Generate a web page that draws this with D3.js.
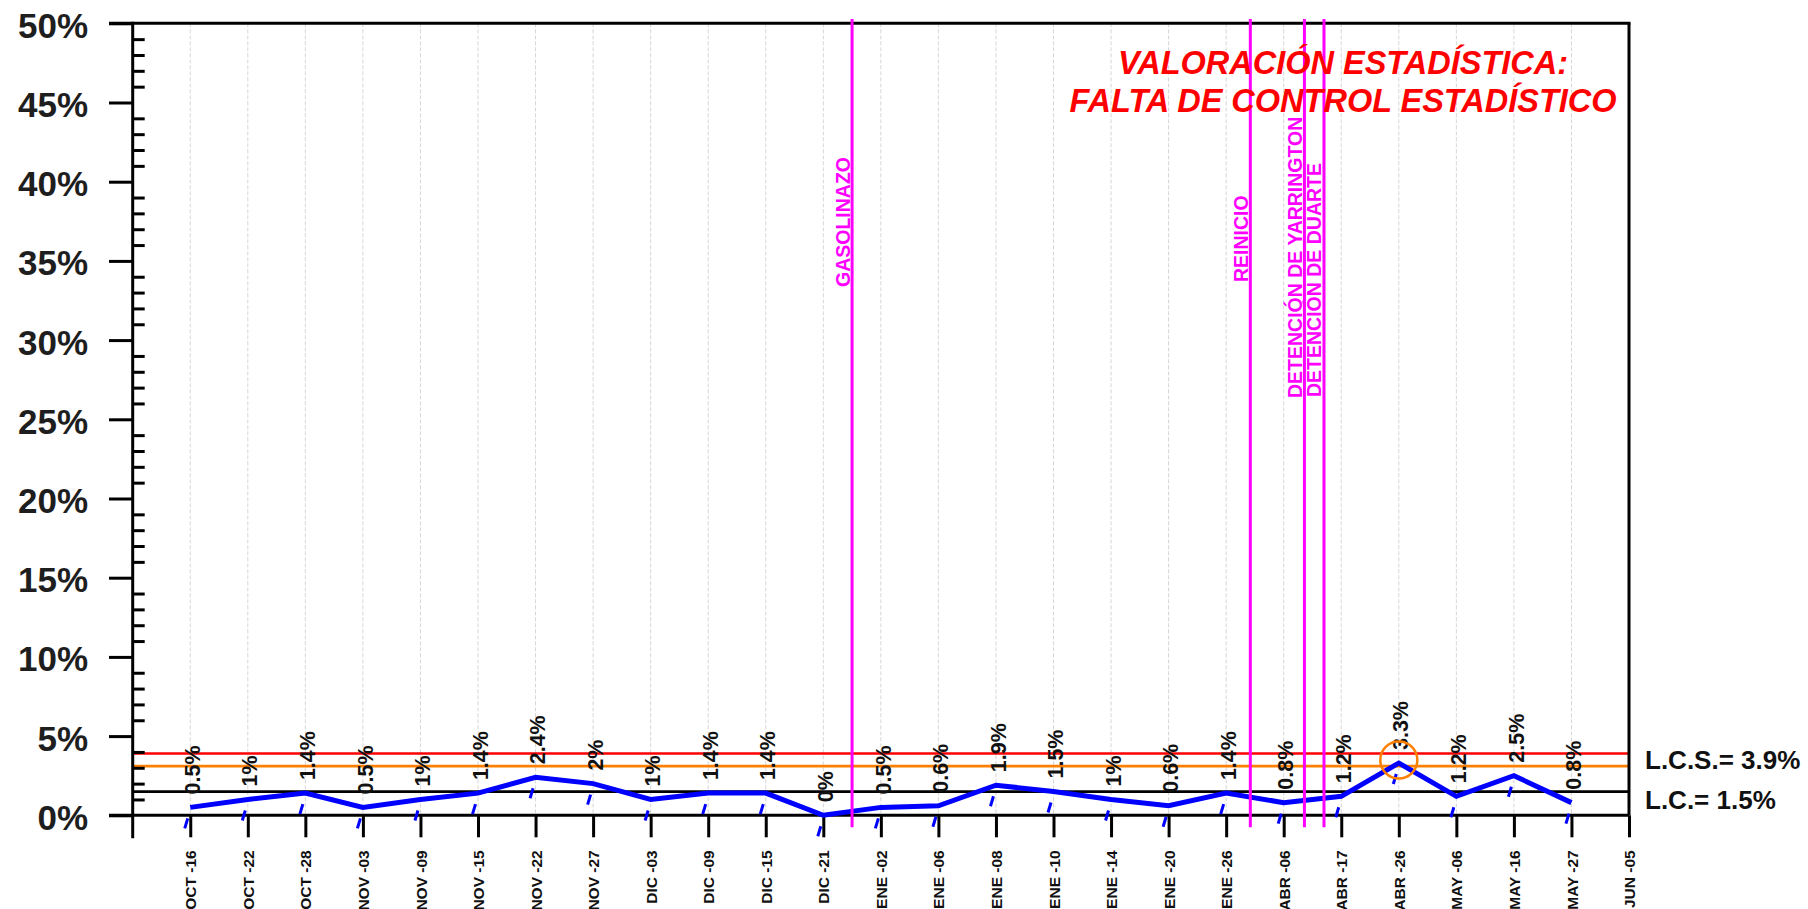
<!DOCTYPE html>
<html>
<head>
<meta charset="utf-8">
<script src="https://cdn.jsdelivr.net/npm/d3@7"></script>
<style>
  html, body { margin: 0; padding: 0; background: #fff; }
  svg { display: block; font-family: "Liberation Sans", Arial, Helvetica, sans-serif; }
</style>
</head>
<body>
<svg id="chart" width="1808" height="909"></svg>
<script>
// ---------- DATA ----------
const categories = ["OCT -16","OCT -22","OCT -28","NOV -03","NOV -09","NOV -15","NOV -22","NOV -27",
  "DIC -03","DIC -09","DIC -15","DIC -21","ENE -02","ENE -06","ENE -08","ENE -10","ENE -14","ENE -20",
  "ENE -26","ABR -06","ABR -17","ABR -26","MAY -06","MAY -16","MAY -27","JUN -05"];
const values = [0.5, 1, 1.4, 0.5, 1, 1.4, 2.4, 2, 1, 1.4, 1.4, 0, 0.5, 0.6, 1.9, 1.5, 1, 0.6, 1.4, 0.8, 1.2, 3.3, 1.2, 2.5, 0.8];
const yTicks = [0, 5, 10, 15, 20, 25, 30, 35, 40, 45, 50];
const limitLCS = 3.9;   // límite de control superior
const limitWarn = 3.1;  // límite de advertencia
const limitLC = 1.5;    // línea central
const eventNames = ["GASOLINAZO", "REINICIO", "DETENCIÓN DE YARRINGTON", "DETENCIÓN DE DUARTE"];
const eventPositions = [11.5, 18.42, 19.36, 19.7]; // fractional category index
const titleLines = ["VALORACIÓN ESTADÍSTICA:", "FALTA DE CONTROL ESTADÍSTICO"];

// ---------- LAYOUT ----------
const L = { axisX: 132.7, right: 1629, top: 23.3, zero: 815.3, tickOuter: 109 };
const eventLabelBottom = [287, 282, 398, 397];

const svg = d3.select("#chart");
const x = d3.scaleLinear().domain([-1, categories.length - 1]).range([L.axisX, L.right]);
const y = d3.scaleLinear().domain([0, 50]).range([L.zero, L.top]);

// gridlines
svg.append("g").selectAll("line").data(d3.range(categories.length - 1)).join("line")
  .attr("x1", d => x(d)).attr("x2", d => x(d))
  .attr("y1", L.top).attr("y2", L.zero)
  .attr("stroke", "#d6d6d6").attr("stroke-width", 1).attr("stroke-dasharray", "4,2");

// limit lines
const limits = [{v: limitLCS, c: "#ff0000"}, {v: limitWarn, c: "#ff8000"}, {v: limitLC, c: "#000000"}];
svg.append("g").selectAll("line").data(limits).join("line")
  .attr("x1", L.axisX).attr("x2", L.right)
  .attr("y1", d => y(d.v)).attr("y2", d => y(d.v))
  .attr("stroke", d => d.c).attr("stroke-width", 2.7);

// frame: top and right
svg.append("line").attr("x1", L.tickOuter).attr("x2", L.right + 1.5).attr("y1", L.top).attr("y2", L.top)
  .attr("stroke", "#000").attr("stroke-width", 3);
svg.append("line").attr("x1", L.right).attr("x2", L.right).attr("y1", L.top).attr("y2", L.zero)
  .attr("stroke", "#000").attr("stroke-width", 3);

// zero line
svg.append("line").attr("x1", L.tickOuter).attr("x2", L.right).attr("y1", L.zero).attr("y2", L.zero)
  .attr("stroke", "#000").attr("stroke-width", 3);

// x axis
const xAxis = svg.append("g").attr("transform", `translate(0,${L.zero})`)
  .call(d3.axisBottom(x).tickValues(d3.range(categories.length)).tickSize(22).tickFormat(i => categories[i]));
xAxis.attr("font-family", null).attr("font-size", null);
xAxis.select(".domain").remove();
xAxis.selectAll(".tick line").attr("stroke", "#000").attr("stroke-width", 3);
xAxis.selectAll(".tick text")
  .attr("transform", "translate(0,35) rotate(-90)")
  .attr("x", 0).attr("y", 0).attr("dy", "0.36em")
  .attr("text-anchor", "end")
  .style("font-size", "15.5px").style("font-weight", "bold").attr("fill", "#111");

// y axis major
const yAxis = svg.append("g").attr("transform", `translate(${L.axisX},0)`)
  .call(d3.axisLeft(y).tickValues(yTicks).tickSize(L.axisX - L.tickOuter).tickPadding(21).tickFormat(d => d + "%"));
yAxis.attr("font-family", null).attr("font-size", null);
yAxis.select(".domain").remove();
yAxis.selectAll(".tick line").attr("stroke", "#000").attr("stroke-width", 3);
yAxis.selectAll(".tick text").attr("dy", "0.4em")
  .style("font-size", "35px").style("font-weight", "bold").attr("fill", "#1e1e1e");

// y axis minor
const minor = d3.range(0, 51).filter(v => v % 5 !== 0);
const yMinor = svg.append("g").attr("transform", `translate(${L.axisX},0)`)
  .call(d3.axisRight(y).tickValues(minor).tickSize(12).tickFormat(""));
yMinor.select(".domain").remove();
yMinor.selectAll(".tick line").attr("stroke", "#000").attr("stroke-width", 3);

// y axis line
svg.append("line").attr("x1", L.axisX).attr("x2", L.axisX).attr("y1", L.top - 1.5).attr("y2", L.zero + 23)
  .attr("stroke", "#000").attr("stroke-width", 3);

// series
const pts = values.map((v, i) => ({i, v}));
svg.append("path").datum(pts)
  .attr("d", d3.line().x(d => x(d.i)).y(d => y(d.v)))
  .attr("fill", "none").attr("stroke", "#0000ff").attr("stroke-width", 5).attr("stroke-linejoin", "miter");

// small blue marks below points
svg.append("g").selectAll("line").data(pts).join("line")
  .attr("x1", d => x(d.i) - 5.5).attr("y1", d => y(d.v) + 21)
  .attr("x2", d => x(d.i) - 2.5).attr("y2", d => y(d.v) + 11)
  .attr("stroke", "#0000ff").attr("stroke-width", 3);

// value labels
svg.append("g").selectAll("text").data(pts).join("text")
  .attr("transform", d => `translate(${x(d.i)},${y(d.v) - 13}) rotate(-90)`)
  .attr("dy", "0.45em")
  .attr("text-anchor", "start")
  .style("font-size", "21.5px").style("font-weight", "bold").attr("fill", "#111")
  .text(d => d.v + "%");

// out-of-control circle
svg.append("g").selectAll("circle").data(pts.filter(d => d.v > limitWarn)).join("circle")
  .attr("cx", d => x(d.i)).attr("cy", d => y(d.v) - 3).attr("r", 18.5)
  .attr("fill", "none").attr("stroke", "#ff8000").attr("stroke-width", 2.5);

// event lines
const events = eventNames.map((n, k) => ({n, p: eventPositions[k], ly: eventLabelBottom[k]}));
svg.append("g").selectAll("line").data(events).join("line")
  .attr("x1", d => x(d.p)).attr("x2", d => x(d.p))
  .attr("y1", 19).attr("y2", L.zero + 12)
  .attr("stroke", "#ff00ff").attr("stroke-width", 3);
svg.append("g").selectAll("text").data(events).join("text")
  .attr("transform", d => `translate(${x(d.p) - 2.5},${d.ly}) rotate(-90)`)
  .attr("text-anchor", "start")
  .style("font-size", "19.5px").style("font-weight", "bold").attr("fill", "#ff00ff")
  .text(d => d.n);

// title
svg.append("g").selectAll("text").data(titleLines).join("text")
  .attr("x", 1343).attr("y", (d, k) => 73.5 + k * 38)
  .attr("text-anchor", "middle")
  .style("font-size", "32.5px").style("font-weight", "bold").style("font-style", "italic")
  .attr("fill", "#ff0000")
  .text(d => d);

// limit labels
svg.append("text").attr("x", 1645).attr("y", y(limitLCS) + 15)
  .style("font-size", "26px").style("font-weight", "bold").attr("fill", "#111")
  .text(`L.C.S.= ${limitLCS}%`);
svg.append("text").attr("x", 1645).attr("y", y(limitLC) + 17)
  .style("font-size", "26px").style("font-weight", "bold").attr("fill", "#111")
  .text(`L.C.= ${limitLC}%`);
</script>
</body>
</html>
